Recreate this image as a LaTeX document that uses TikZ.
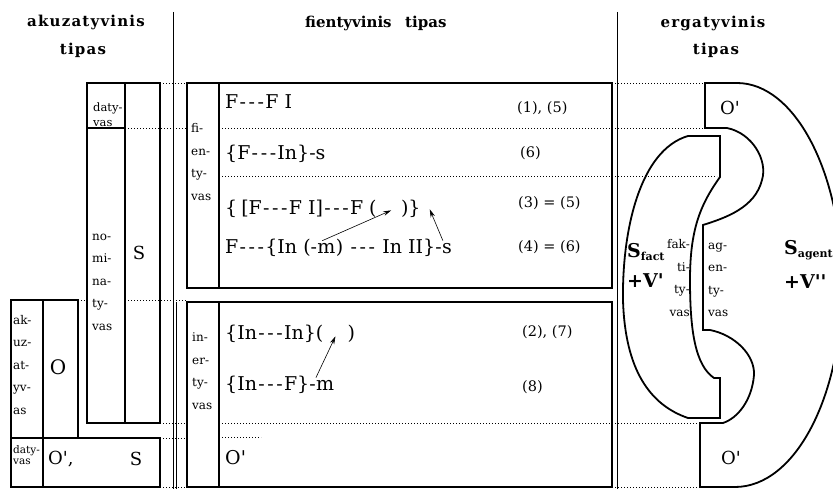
\documentclass[tikz,border=0pt]{standalone}
\usepackage{fontspec}
\setmainfont{DejaVu Serif}[Ligatures=TeXOff]
\usetikzlibrary{arrows.meta,calc}
\newcommand\hyp{\makebox[9pt]{-}}
\newcommand\hhh{\hyp\hyp\hyp}
\begin{document}
\begin{tikzpicture}[x=1pt,y=-1pt,
  box/.style={line width=2.2pt},
  sepline/.style={line width=0.8pt},
  dots/.style={line width=0.8pt, dash pattern=on 0.9pt off 2.1pt},
  erg/.style={line width=1.8pt},
  lbl/.style={inner sep=0pt, anchor=west, align=left, font=\fontsize{12}{22.5}\selectfont},
  fp/.style={inner sep=0pt, anchor=base west, font=\fontsize{19}{22}\selectfont},
  num/.style={inner sep=0pt, anchor=west, font=\fontsize{14.5}{16}\selectfont},
  hdr/.style={inner sep=0pt, font=\fontsize{15}{16}\selectfont\bfseries},
  hdrsp/.style={hdr, font=\fontsize{15}{16}\selectfont\bfseries\addfontfeatures{LetterSpace=8}},
  big/.style={inner sep=0pt, font=\fontsize{18}{20}\selectfont},
  ergtxt/.style={inner sep=0pt, anchor=west, font=\fontsize{19}{20}\selectfont\bfseries},
  arr/.style={-{Stealth[length=8pt,width=4.5pt]}, line width=0.6pt},
]
\useasboundingbox (0,0) rectangle (833,489);
\clip (0,0) rectangle (833,489);

% separators
\draw[sepline] (173,12) -- (173,489);
\draw[sepline] (176,302) -- (176,489);
\draw[sepline] (617,12) -- (617,489);

% dotted guide lines
\draw[dots] (160,83) -- (187,83);
\draw[dots] (125,128) -- (187,128);
\draw[dots] (78,300) -- (88,300);
\draw[dots] (125,300) -- (187,300);
\draw[dots] (160,423) -- (187,423);
\draw[dots] (160,438) -- (187,438);
\draw[dots] (160,487) -- (187,487);
\draw[dots] (219,128) -- (705,128);
\draw[dots] (219,176) -- (717,176);
\draw[dots] (219,423) -- (700,423);
\draw[dots] (219,437) -- (261,437);
\draw[dots] (612,83) -- (705,83);
\draw[dots] (612,487) -- (700,487);

% left column (accusative)
\draw[box] (87,83) rectangle (160,423);
\draw[box] (125,83) -- (125,423);
\draw[box] (87,128) -- (125,128);
\draw[box] (11,300) rectangle (78,438);
\draw[box] (11,438) rectangle (160,487);
\draw[box] (43,300) -- (43,487);

% middle column (fientive)
\draw[box] (187,83) rectangle (612,288);
\draw[box] (219,83) -- (219,288);
\draw[box] (187,302) rectangle (612,487);
\draw[box] (219,302) -- (219,487);

% right column (ergative)
\draw[erg] (705,128) -- (705,83) -- (737,83)
  .. controls (795,83) and (842,173) .. (842,285)
  .. controls (842,397) and (795,487) .. (735,487)
  -- (700,487) -- (700,423) -- (723,423)
  .. controls (738,418) and (752,400) .. (754,375)
  .. controls (755,355) and (735,335) .. (710,330)
  -- (703,330) -- (703,225)
  .. controls (725,218) and (755,208) .. (762,180)
  .. controls (768,160) and (752,133) .. (727,128) -- cycle;
\draw[erg] (688,136) -- (720,136) -- (720,177)
  .. controls (700,205) and (690,230) .. (690,280)
  .. controls (690,330) and (695,365) .. (714,378)
  -- (720,378) -- (720,418) -- (688,418)
  .. controls (650,405) and (625,370) .. (623,300)
  .. controls (622,230) and (640,150) .. (688,136) -- cycle;

% headers
\node[hdrsp] (h1a) at (86,22) {akuzatyvinis};
\node[hdrsp] (h1b) at (83,50) {tipas};
\node[hdr, anchor=west] (h2a) at (305,23) {fientyvinis};
\node[hdr, anchor=west] (h2b) at (405,23) {tipas};
\node[hdrsp] (h3a) at (713,23) {ergatyvinis};
\node[hdrsp] (h3b) at (716,50) {tipas};

% left labels
\node[lbl, font=\fontsize{11.5}{15}\selectfont] (dv1) at (93,115) {daty-\\vas};
\node[lbl] (nom) at (92,282) {no-\\mi-\\na-\\ty-\\vas};
\node[lbl] (akz) at (13,365) {ak-\\uz-\\at-\\yv-\\as};
\node[lbl, font=\fontsize{10.5}{11.5}\selectfont] (dv2) at (13,455) {daty-\\vas};
\node[big] (S1) at (139,253) {S};
\node[big, font=\fontsize{20}{22}\selectfont] (O1) at (58,367) {O};
\node[big, anchor=west] (O2) at (48,459) {O',};
\node[big] (S2) at (136,459) {S};

% fientive labels
\node[lbl] (fi) at (191,162) {fi-\\en-\\ty-\\vas};
\node[lbl] (ine) at (192,371) {in-\\er-\\ty-\\vas};

% formulas
\node[fp] (f1) at (225,109) {F\hhh F I};
\node[fp] (f2) at (225,160) {\{F\hhh In\}-s};
\node[fp] (f3a) at (225,215) {\{\hspace{4pt}[F\hhh F I]\hhh F\hspace{6pt}(};
\node[fp] (f3b) at ([xshift=24pt]f3a.base east) {)\}};
\node[fp] (f4a) at (225,254) {F\hhh\{In (-};
\node[fp] (f4m) at (f4a.base east) {m};
\node[fp] (f4b) at (f4m.base east) {) \hhh{} In II\}-};
\node[fp] (f4s) at (f4b.base east) {s};
\node[fp] (f5a) at (225,339) {\{In\hhh In\}(};
\node[fp] (f5b) at ([xshift=24pt]f5a.base east) {)};
\node[fp] (f6a) at (225,390) {\{In\hhh F\}-};
\node[fp] (f6m) at (f6a.base east) {m};
\node[fp] (f7) at (225,464) {O'};

% numbers
\node[num] (n1) at (517,108) {(1), (5)};
\node[num] (n2) at (520,153) {(6)};
\node[num] (n3) at (518,203) {(3) = (5)};
\node[num] (n4) at (518,247) {(4) = (6)};
\node[num] (n5) at (522,332) {(2), (7)};
\node[num] (n6) at (522,387) {(8)};

% arrows
\coordinate (a1s) at ($(f4m.north west)+(5,-3)$);
\coordinate (a1e) at ($(f3a.east)!0.6!(f3b.west)+(0,1)$);
\draw[arr] (a1s) -- (a1e);
\coordinate (a2s) at ($(f4s.north west)+(1,-3)$);
\coordinate (a2e) at ($(f3b.east)+(9,0)$);
\draw[arr] (a2s) -- (a2e);
\coordinate (a3s) at ($(f6m.north west)+(0,-2)$);
\coordinate (a3e) at ($(f5a.east)!0.5!(f5b.west)+(0,3)$);
\draw[arr] (a3s) -- (a3e);

% ergative labels
\node[big] (O3) at (730,108) {O'};
\node[big] (O4) at (731,458) {O'};
\node[ergtxt] (sf) at (627,252) {S\raisebox{-0.35ex}{\fontsize{11}{12}\selectfont fact}};
\node[ergtxt] (vf) at (627,281) {+V'};
\node[ergtxt] (sa) at (784,250) {S\raisebox{-0.35ex}{\fontsize{11}{12}\selectfont agent}};
\node[ergtxt] (va) at (784,282) {+V''};
\node[lbl, anchor=east, align=right, font=\fontsize{12}{22.5}\selectfont] (fak) at (690,278) {fak-\\ti-\\ty-\\vas};
\node[lbl, font=\fontsize{12}{22.5}\selectfont] (ag) at (708,280) {ag-\\en-\\ty-\\vas};
\end{tikzpicture}
\end{document}
